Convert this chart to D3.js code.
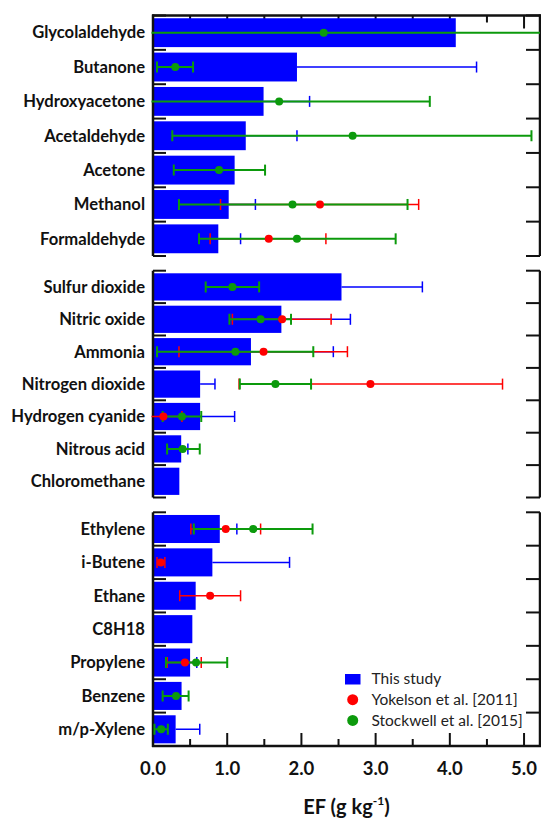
<!DOCTYPE html>
<html>
<head>
<meta charset="utf-8">
<script src="https://cdn.jsdelivr.net/npm/d3@7"></script>
<style>
  body { margin: 0; background: #fff; }
  svg text { font-family: Lato, "Open Sans", sans-serif; }
</style>
</head>
<body>
<div id="chart"></div>
<script>
// Emission factors by species, three groups of seven

const categories = [
  'Glycolaldehyde', 'Butanone', 'Hydroxyacetone', 'Acetaldehyde', 'Acetone', 'Methanol', 'Formaldehyde',
  'Sulfur dioxide', 'Nitric oxide', 'Ammonia', 'Nitrogen dioxide', 'Hydrogen cyanide', 'Nitrous acid', 'Chloromethane',
  'Ethylene', 'i-Butene', 'Ethane', 'C8H18', 'Propylene', 'Benzene', 'm/p-Xylene'
];
const groupSizes = [7, 7, 7];

// This study (bars) and upper end of its error bar
const thisStudy = [4.08, 1.94, 1.49, 1.25, 1.10, 1.02, 0.88,
                   2.54, 1.73, 1.32, 0.635, 0.635, 0.38, 0.355,
                   0.90, 0.80, 0.575, 0.53, 0.50, 0.385, 0.305];
const thisStudyHi = [null, 4.36, 2.11, 1.94, null, 1.38, 1.18,
                     3.63, 2.66, 2.43, 0.835, 1.10, 0.47, null,
                     1.13, 1.84, null, null, 0.59, null, 0.63];

// Yokelson et al. [2011]
const yokelson = [null, null, null, null, null, 2.25, 1.56,
                  null, 1.74, 1.49, 2.93, 0.14, null, null,
                  0.98, 0.105, 0.77, null, 0.43, null, null];
const yokelsonLo = [null, null, null, null, null, 0.91, 0.77,
                    null, 1.07, 0.35, 1.16, -0.11, null, null,
                    0.51, 0.054, 0.36, null, 0.19, null, null];
const yokelsonHi = [null, null, null, null, null, 3.58, 2.33,
                    null, 2.40, 2.62, 4.71, 0.39, null, null,
                    1.45, 0.16, 1.18, null, 0.65, null, null];

// Stockwell et al. [2015]
const stockwell = [2.30, 0.30, 1.70, 2.69, 0.89, 1.88, 1.94,
                   1.07, 1.45, 1.11, 1.65, 0.39, 0.40, null,
                   1.35, null, null, null, 0.58, 0.31, 0.11];
const stockwellLo = [-1.0, 0.054, -0.33, 0.26, 0.28, 0.35, 0.62,
                     0.71, 1.03, 0.054, 1.17, 0.13, 0.19, null,
                     0.55, null, null, null, 0.175, 0.13, 0.02];
const stockwellHi = [5.6, 0.54, 3.73, 5.10, 1.51, 3.43, 3.27,
                     1.43, 1.86, 2.16, 2.13, 0.65, 0.63, null,
                     2.15, null, null, null, 1.00, 0.48, 0.20];

const xTicks = [0, 1, 2, 3, 4, 5];
const legendLabels = ['This study', 'Yokelson et al. [2011]', 'Stockwell et al. [2015]'];

const BLUE = '#0000ff';
const RED = '#ff0000';
const GREEN = '#0c9a0c';

const width = 541;
const height = 818;
const panels = [
  { top: 15.5, bottom: 256 },
  { top: 270.7, bottom: 497.5 },
  { top: 512.3, bottom: 746 }
];

const rows = categories.map((name, i) => ({
  name,
  bar: thisStudy[i],
  barHi: thisStudyHi[i],
  red: yokelson[i], redLo: yokelsonLo[i], redHi: yokelsonHi[i],
  green: stockwell[i], greenLo: stockwellLo[i], greenHi: stockwellHi[i]
}));

const svg = d3.select('#chart').append('svg')
  .attr('width', width)
  .attr('height', height);

const x = d3.scaleLinear().domain([0, 5.215]).range([153, 540]);
const x0 = x.range()[0];
const x1 = x.range()[1];

svg.append('clipPath').attr('id', 'plot-clip')
  .append('rect')
  .attr('x', x0 - 1.5).attr('y', 0)
  .attr('width', x1 - x0 + 1.5).attr('height', height);

const halfTicks = d3.range(0.5, 5.21, 0.5);
const capH = 5.5;

function errorBar(g, lo, hi, color, widthPx, showLoCap) {
  g.append('line')
    .attr('x1', x(lo)).attr('x2', x(hi))
    .attr('y1', 0).attr('y2', 0)
    .attr('stroke', color).attr('stroke-width', widthPx);
  const caps = showLoCap ? [lo, hi] : [hi];
  caps.forEach(c => {
    g.append('line')
      .attr('x1', x(c)).attr('x2', x(c))
      .attr('y1', -capH).attr('y2', capH)
      .attr('stroke', color).attr('stroke-width', widthPx);
  });
}

let start = 0;
panels.forEach((p, pi) => {
  const n = groupSizes[pi];
  const data = rows.slice(start, start + n);
  start += n;

  const y = d3.scaleBand()
    .domain(data.map(d => d.name))
    .range([p.top, p.bottom])
    .paddingInner(0.16)
    .paddingOuter(0.08);
  const step = y.step();

  const g = svg.append('g').attr('class', 'panel');

  // category boundary ticks, left and right
  const bounds = d3.range(n + 1).map(i => p.top + i * step);
  g.selectAll('.tick-l').data(bounds).join('line')
    .attr('x1', x0).attr('x2', x0 + 13)
    .attr('y1', d => d).attr('y2', d => d)
    .attr('stroke', '#111').attr('stroke-width', 2);
  g.selectAll('.tick-r').data(bounds).join('line')
    .attr('x1', x1 - 14).attr('x2', x1)
    .attr('y1', d => d).attr('y2', d => d)
    .attr('stroke', '#111').attr('stroke-width', 2);

  // x ticks on top (first panel) and bottom (last panel)
  if (pi === 0 || pi === panels.length - 1) {
    const yEdge = pi === 0 ? p.top : p.bottom;
    const dir = pi === 0 ? 1 : -1;
    g.selectAll('.xt').data(halfTicks).join('line')
      .attr('x1', d => x(d)).attr('x2', d => x(d))
      .attr('y1', yEdge)
      .attr('y2', d => yEdge + dir * (Number.isInteger(d) ? 13 : 7))
      .attr('stroke', '#111').attr('stroke-width', 2);
    g.append('line')
      .attr('x1', x0 - 1).attr('x2', x1 + 1)
      .attr('y1', yEdge).attr('y2', yEdge)
      .attr('stroke', '#111').attr('stroke-width', 2.5);
  }

  // bars
  g.selectAll('.bar').data(data).join('rect')
    .attr('class', 'bar')
    .attr('x', x(0))
    .attr('y', d => y(d.name))
    .attr('width', d => x(d.bar) - x(0))
    .attr('height', y.bandwidth())
    .attr('fill', BLUE);

  // vertical frame lines
  [x0, x1].forEach(xx => {
    g.append('line')
      .attr('x1', xx).attr('x2', xx)
      .attr('y1', p.top - (pi === 0 ? 1 : 0))
      .attr('y2', p.bottom + (pi === panels.length - 1 ? 1 : 0))
      .attr('stroke', '#111').attr('stroke-width', 2.5);
  });

  // category labels
  g.selectAll('.cat').data(data).join('text')
    .attr('x', 145)
    .attr('y', d => y(d.name) + y.bandwidth() / 2)
    .attr('dy', '0.35em')
    .attr('text-anchor', 'end')
    .style('font-size', '16.6px')
    .style('font-weight', 'bold')
    .style('fill', '#111')
    .text(d => d.name);

  // error bars and points
  const eg = g.append('g').attr('clip-path', 'url(#plot-clip)');
  data.forEach(d => {
    const cy = y(d.name) + y.bandwidth() / 2;
    const rg = eg.append('g').attr('transform', `translate(0,${cy})`);
    if (d.barHi != null) errorBar(rg, d.bar, d.barHi, BLUE, 1.5, false);
    if (d.red != null) errorBar(rg, d.redLo, d.redHi, RED, 1.5, true);
    if (d.green != null) errorBar(rg, d.greenLo, d.greenHi, GREEN, 2, true);
    if (d.red != null) {
      rg.append('circle').attr('cx', x(d.red)).attr('cy', 0).attr('r', 4).attr('fill', RED);
    }
    if (d.green != null) {
      rg.append('circle').attr('cx', x(d.green)).attr('cy', 0).attr('r', 4).attr('fill', GREEN);
    }
  });
});

// x tick labels
const last = panels[panels.length - 1];
svg.selectAll('.xlab').data(xTicks).join('text')
  .attr('x', d => x(d))
  .attr('y', last.bottom + 29)
  .attr('text-anchor', 'middle')
  .style('font-size', '18.5px')
  .style('font-weight', 'bold')
  .style('fill', '#111')
  .text(d => d.toFixed(1));

// axis title
const title = svg.append('text')
  .attr('x', (x0 + x1) / 2)
  .attr('y', 814)
  .attr('text-anchor', 'middle')
  .style('font-size', '20px')
  .style('font-weight', 'bold')
  .style('fill', '#111');
title.append('tspan').text('EF (g kg');
title.append('tspan').attr('dy', -9).style('font-size', '12px').text('-1');
title.append('tspan').attr('dy', 9).text(')');

// legend
const lg = svg.append('g').attr('transform', 'translate(345,679)');
legendLabels.forEach((label, i) => {
  const ly = i * 20.7;
  if (i === 0) {
    lg.append('rect').attr('x', 0).attr('y', ly - 5).attr('width', 15.5).attr('height', 10.5).attr('fill', BLUE);
  } else {
    lg.append('circle').attr('cx', 7.7).attr('cy', ly).attr('r', 5.5).attr('fill', i === 1 ? RED : GREEN);
  }
  lg.append('text')
    .attr('x', 26.5)
    .attr('y', ly)
    .attr('dy', '0.35em')
    .style('font-size', '15.5px')
    .style('fill', '#222')
    .text(label);
});
</script>
</body>
</html>
